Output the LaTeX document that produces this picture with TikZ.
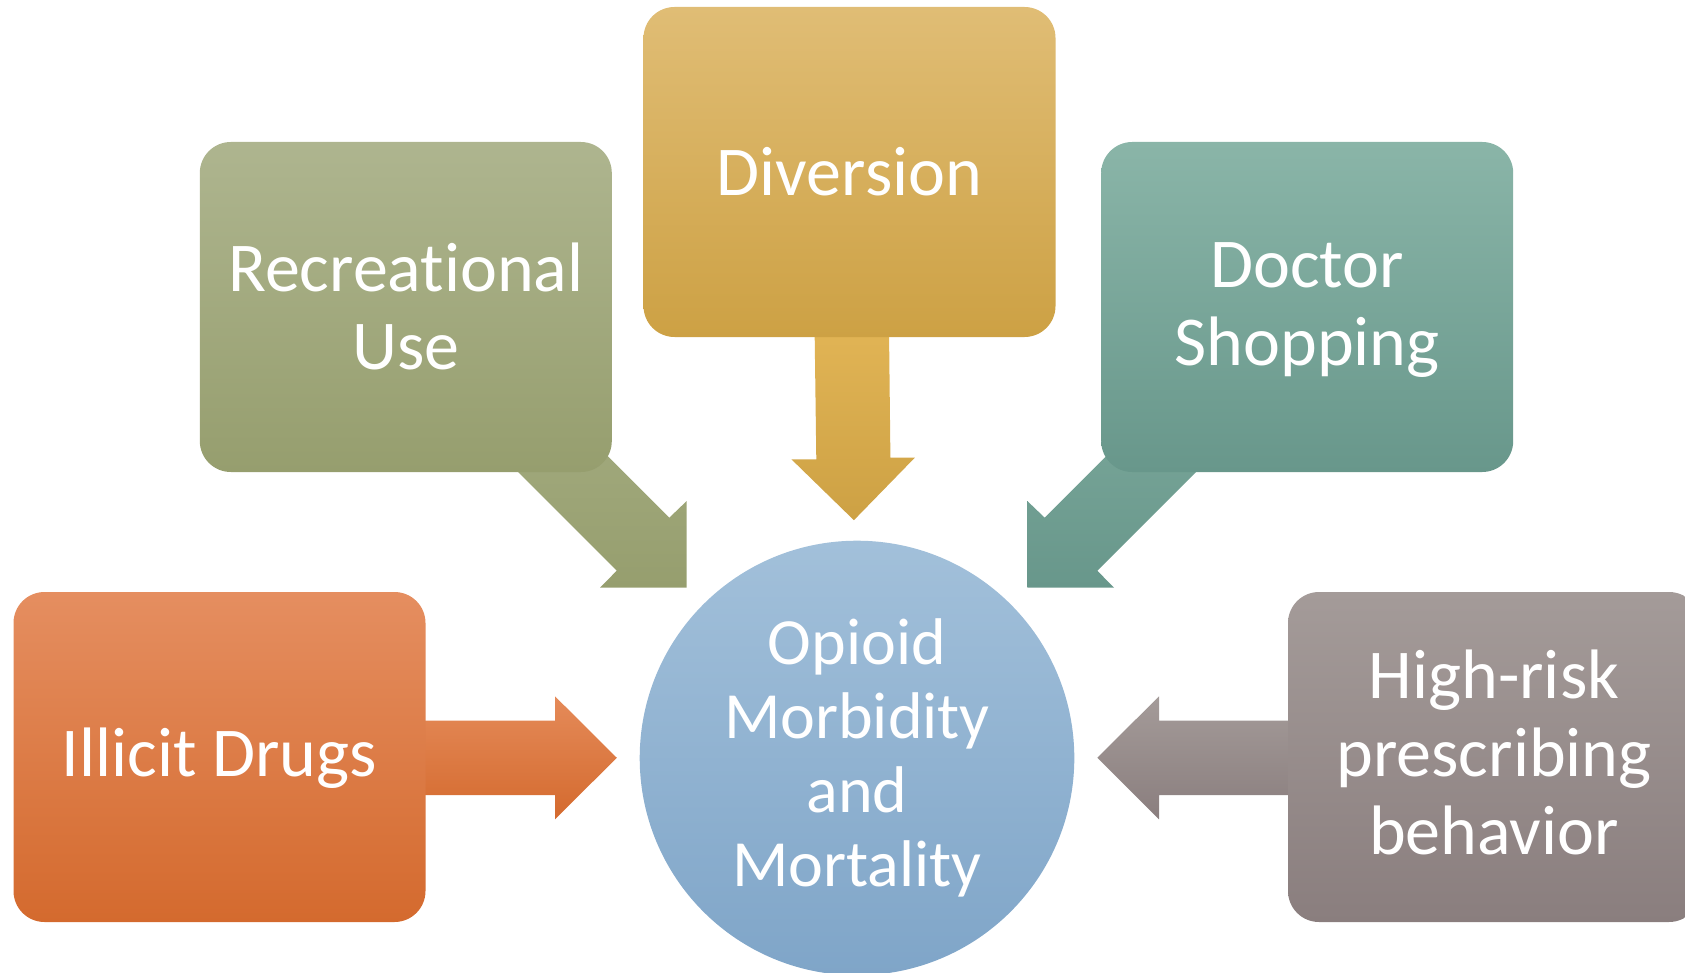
\documentclass[tikz,border=0pt]{standalone}
\usepackage{fontspec}
\setmainfont{Carlito}[Ligatures=NoCommon]
% box fills, top / middle / bottom
\definecolor{divT}{HTML}{E0BD75}\definecolor{divM}{HTML}{E1B455}\definecolor{divB}{HTML}{CDA144}
\definecolor{recT}{HTML}{AEB58F}\definecolor{recM}{HTML}{A3AB7F}\definecolor{recB}{HTML}{969E6E}
\definecolor{docT}{HTML}{8AB5A8}\definecolor{docM}{HTML}{79A699}\definecolor{docB}{HTML}{68978B}
\definecolor{illT}{HTML}{E58E60}\definecolor{illM}{HTML}{E47D3E}\definecolor{illB}{HTML}{D46A2E}
\definecolor{hrT}{HTML}{A49B99}\definecolor{hrM}{HTML}{978D8C}\definecolor{hrB}{HTML}{8A7E7E}
\definecolor{hubT}{HTML}{A2C0DA}\definecolor{hubB}{HTML}{7FA5C8}
\begin{document}
\begin{tikzpicture}[x=1pt,y=-1pt,
  box/.style={rounded corners=31pt, minimum width=412pt, minimum height=330pt,
    inner sep=0pt},
  boxtext/.style={inner sep=0pt, text=white, align=center,
    font=\fontsize{70}{78}\selectfont},
  hubstyle/.style={circle, minimum size=434.6pt, inner sep=0pt, text=white,
    align=center, font=\fontsize{66}{74}\selectfont, top color=hubT, bottom color=hubB},
  blockarrow/.style={draw=none}
]
\clip (0,0) rectangle (1685,973);

% block arrows, drawn first so the boxes cover their tails
\path[blockarrow, top color=divM, bottom color=divB]
  (814.6,330) -- (816.3,459.3) -- (791.4,459.3) -- (853.9,520.2)
  -- (914.8,457.7) -- (890.4,457.7) -- (889,330) -- cycle;
\path[blockarrow, top color=recM, bottom color=recB]
  (559.3,407.7) -- (669.3,517.7) -- (686.7,501) -- (686.7,587.7)
  -- (600,587.7) -- (616.7,570.7) -- (466.7,420.7) -- cycle;
\path[blockarrow, top color=docM, bottom color=docB]
  (1154.7,407.7) -- (1044.7,517.7) -- (1027.3,501) -- (1027.3,587.7)
  -- (1114,587.7) -- (1097.3,570.7) -- (1247.3,420.7) -- cycle;
\path[blockarrow, top color=illT!80!illM, bottom color=illB]
  (400,720.7) -- (555,720.7) -- (555,696.3) -- (616.8,757.8)
  -- (555,819.3) -- (555,795) -- (400,795) -- cycle;
\path[blockarrow, top color=hrT, bottom color=hrB]
  (1314,720.7) -- (1159,720.7) -- (1159,696.3) -- (1097.3,757.8)
  -- (1159,819.3) -- (1159,795) -- (1314,795) -- cycle;

% source boxes
\node[box, top color=divT, middle color=divM, bottom color=divB] (diversion) at (849.5,172) {};
\node[box, top color=recT, middle color=recM, bottom color=recB] (recreational) at (405.8,307) {};
\node[box, top color=docT, middle color=docM, bottom color=docB] (doctor) at (1307.2,307) {};
\node[box, top color=illT, middle color=illM, bottom color=illB] (illicit) at (219.5,757) {};
\node[box, top color=hrT, middle color=hrM, bottom color=hrB] (highrisk) at (1494,757) {};

% box labels
\node[boxtext] (diversiontext) at (diversion.center) {Diversion};
\node[boxtext] (recreationaltext) at ([yshift=1pt]recreational.center) {Recreational\\Use};
\node[boxtext] (doctortext) at ([yshift=-3pt]doctor.center) {Doctor\\Shopping};
\node[boxtext] (illicittext) at ([yshift=-1pt]illicit.center) {Illicit Drugs};
\node[boxtext] (highrisktext) at ([yshift=5pt]highrisk.center) {High-risk\\prescribing\\behavior};

% outcome
\node[hubstyle] (hub) at (857,758) {Opioid\\Morbidity\\and\\Mortality};
\end{tikzpicture}
\end{document}
